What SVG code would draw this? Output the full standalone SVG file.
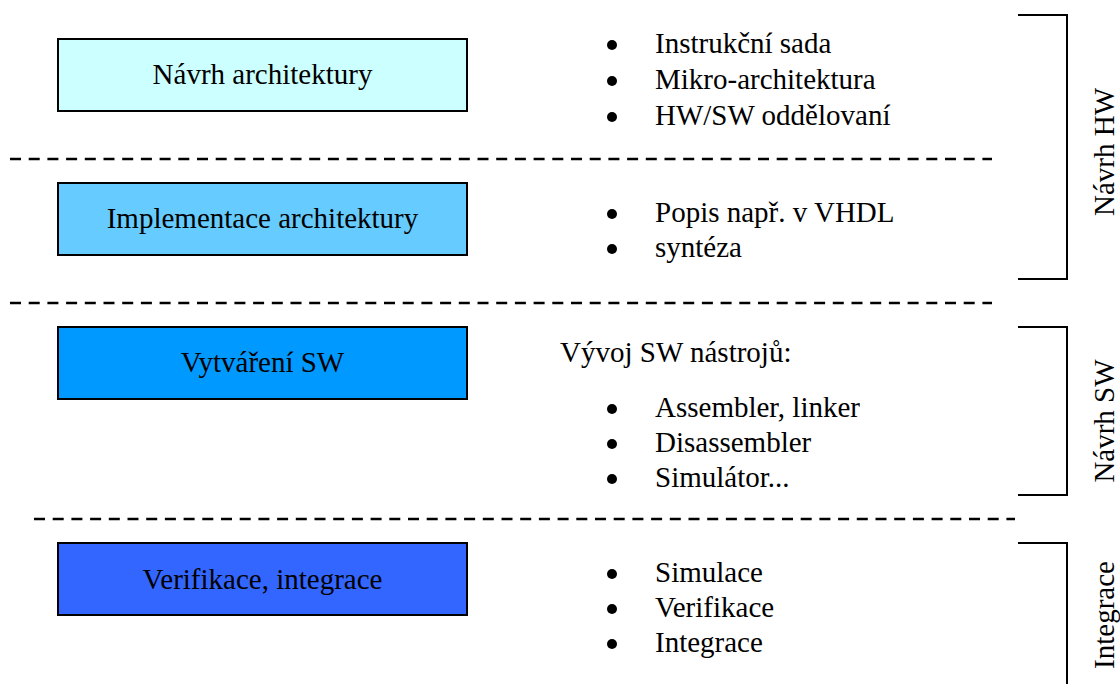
<svg xmlns="http://www.w3.org/2000/svg" width="1120" height="684" viewBox="0 0 1120 684">
<style>
text{font-family:"Liberation Serif","Times New Roman",serif;font-size:29px;fill:#000}
.box{stroke:#000;stroke-width:2}
.mid{text-anchor:middle}
.dash{stroke:#000;stroke-width:2.5;stroke-dasharray:11 7.7;fill:none}
.br{stroke:#000;stroke-width:2;fill:none}
</style>
<rect width="1120" height="684" fill="#fff"/>
<g id="separators">
<line class="dash" x1="10" y1="159" x2="992" y2="159"/>
<line class="dash" x1="10" y1="303" x2="992" y2="303"/>
<line class="dash" x1="34" y1="519" x2="1015" y2="519"/>
</g>
<g id="node-navrh">
<rect class="box" x="58" y="39" width="409" height="72" fill="#CCFFFF"/>
<text class="mid" x="262.5" y="84">Návrh architektury</text>
</g>
<g id="node-implementace">
<rect class="box" x="58" y="183" width="409" height="72" fill="#66CCFF"/>
<text class="mid" x="262.5" y="228">Implementace architektury</text>
</g>
<g id="node-vytvareni">
<rect class="box" x="58" y="327" width="409" height="72" fill="#0099FF"/>
<text class="mid" x="262.5" y="372">Vytváření SW</text>
</g>
<g id="node-verifikace">
<rect class="box" x="58" y="543" width="409" height="72" fill="#3366FF"/>
<text class="mid" x="262.5" y="589">Verifikace, integrace</text>
</g>
<g id="list-hw">
<circle cx="612" cy="45" r="5"/><text x="655" y="53">Instrukční sada</text>
<circle cx="612" cy="81" r="5"/><text x="655" y="89">Mikro-architektura</text>
<circle cx="612" cy="117" r="5"/><text x="655" y="125">HW/SW oddělovaní</text>
<circle cx="612" cy="214" r="5"/><text x="655" y="222">Popis např. v VHDL</text>
<circle cx="612" cy="249" r="5"/><text x="655" y="257">syntéza</text>
</g>
<g id="list-sw">
<text x="560" y="362">Vývoj SW nástrojů:</text>
<circle cx="612" cy="409" r="5"/><text x="655" y="417">Assembler, linker</text>
<circle cx="612" cy="444" r="5"/><text x="655" y="452">Disassembler</text>
<circle cx="612" cy="479" r="5"/><text x="655" y="487">Simulátor...</text>
</g>
<g id="list-int">
<circle cx="612" cy="574" r="5"/><text x="655" y="582">Simulace</text>
<circle cx="612" cy="609" r="5"/><text x="655" y="617">Verifikace</text>
<circle cx="612" cy="644" r="5"/><text x="655" y="652">Integrace</text>
</g>
<g id="brackets">
<polyline class="br" points="1018,15 1067,15 1067,279 1018,279"/>
<polyline class="br" points="1018,327 1067,327 1067,495 1018,495"/>
<polyline class="br" points="1018,543 1067,543 1067,684"/>
<text class="mid" transform="translate(1114,152) rotate(-90)">Návrh HW</text>
<text class="mid" transform="translate(1114,421) rotate(-90)">Návrh SW</text>
<text class="mid" transform="translate(1114,615) rotate(-90)">Integrace</text>
</g>
</svg>
